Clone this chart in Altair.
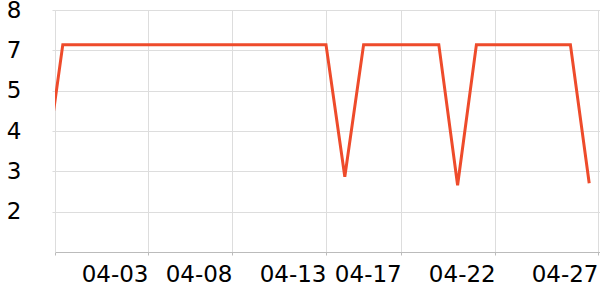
import altair as alt
import pandas as pd

dates = ["2024-03-29", "2024-03-30", "2024-03-31", "2024-04-01", "2024-04-02", "2024-04-03",
         "2024-04-04", "2024-04-05", "2024-04-06", "2024-04-07", "2024-04-08", "2024-04-09",
         "2024-04-10", "2024-04-11", "2024-04-12", "2024-04-13", "2024-04-14", "2024-04-15",
         "2024-04-16", "2024-04-17", "2024-04-18", "2024-04-19", "2024-04-20", "2024-04-21",
         "2024-04-22", "2024-04-23", "2024-04-24", "2024-04-25", "2024-04-26", "2024-04-27"]
values = [2.6, 6.9, 6.9, 6.9, 6.9, 6.9,
          6.9, 6.9, 6.9, 6.9, 6.9, 6.9,
          6.9, 6.9, 6.9, 6.9, 2.71, 6.9,
          6.9, 6.9, 6.9, 6.9, 2.44, 6.9,
          6.9, 6.9, 6.9, 6.9, 6.9, 2.5]

y_ticks = [8, 6.72, 5.44, 4.16, 2.88, 1.6]
y_domain = [0.32, 8]

x_ticks = [
    alt.DateTime(year=2024, month=3, date=29, hours=14, minutes=2, utc=True),
    alt.DateTime(year=2024, month=4, date=3, hours=12, minutes=46, utc=True),
    alt.DateTime(year=2024, month=4, date=8, utc=True),
    alt.DateTime(year=2024, month=4, date=13, utc=True),
    alt.DateTime(year=2024, month=4, date=17, utc=True),
    alt.DateTime(year=2024, month=4, date=22, utc=True),
    alt.DateTime(year=2024, month=4, date=27, hours=11, minutes=15, utc=True),
]
x_domain = [
    alt.DateTime(year=2024, month=3, date=29, hours=14, minutes=2, utc=True),
    alt.DateTime(year=2024, month=4, date=27, hours=13, minutes=47, utc=True),
]

df = pd.DataFrame({"date": dates, "value": values})

chart = alt.Chart(df).mark_line(
    color="#ee4b2b", strokeWidth=3, clip=True
).encode(
    x=alt.X("date:T", scale=alt.Scale(type="utc", domain=x_domain, nice=False),
            axis=alt.Axis(values=x_ticks, title=None,
                          labelExpr="datum.index == 0 ? '' : utcFormat(datum.value, '%m-%d')",
                          labelAlign="right", labelFont="DejaVu Sans", labelFontSize=23,
                          labelColor="#000", labelPadding=8, tickSize=3,
                          domainColor="#bbbbbb", tickColor="#bbbbbb",
                          gridColor="#dddddd", labelFlush=False, labelOverlap=False)),
    y=alt.Y("value:Q", scale=alt.Scale(domain=y_domain, nice=False, zero=False),
            axis=alt.Axis(values=y_ticks, format=".0f", title=None,
                          labelFont="DejaVu Sans", labelFontSize=23, labelColor="#000",
                          labelPadding=31, tickSize=3, domainColor="#dddddd",
                          tickColor="#dddddd", gridColor="#dddddd", labelFlush=False,
                          labelOverlap=False)),
).properties(
    width=545, height=242,
    autosize=alt.AutoSizeParams(type="none"),
    padding={"left": 55, "top": 10, "right": 0, "bottom": 48},
).configure_view(stroke=None)

chart.save("out.html", embed_options={"renderer": "svg", "actions": False})
